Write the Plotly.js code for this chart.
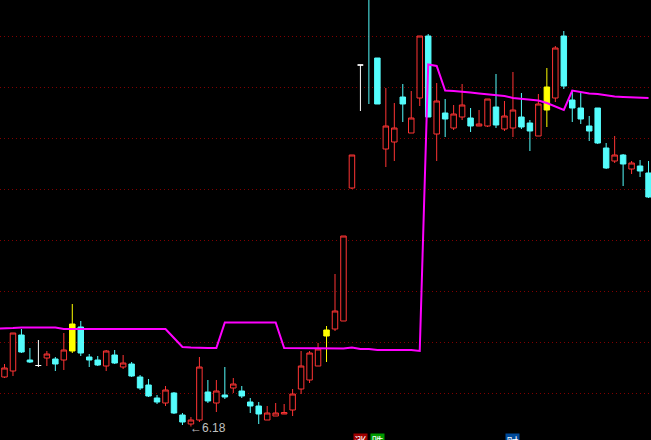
<!DOCTYPE html>
<html>
<head>
<meta charset="utf-8">
<script src="https://cdn.plot.ly/plotly-3.0.1.min.js"></script>
<style>
html,body{margin:0;padding:0;background:#000;}
#chart{width:651px;height:440px;}
</style>
</head>
<body>
<div id="chart"></div>
<script>
// Daily OHLC prices (77 trading days)
const open = [7.17,7.29,8.01,7.51,7.40,7.55,7.53,7.51,7.69,8.17,
  7.57,7.51,7.39,7.61,7.37,7.43,7.17,7.01,6.75,6.65,
  6.85,6.41,6.23,6.31,6.87,6.65,6.81,6.95,6.89,6.67,
  6.59,6.31,6.39,6.43,6.51,6.93,7.11,7.39,7.99,8.13,
  8.29,10.95,13.41,15.11,13.55,11.73,11.87,12.77,12.05,12.75,
  13.99,12.03,12.45,12.15,12.37,12.35,12.19,12.19,12.57,12.13,
  12.15,12.37,12.25,11.99,12.51,12.75,13.99,12.71,12.55,12.19,
  12.55,11.75,11.49,11.61,11.33,11.39,11.25];
const high = [7.43,8.05,8.13,7.75,7.91,7.69,7.57,8.05,8.63,8.29,
  7.63,7.59,7.71,7.71,7.61,7.47,7.21,7.13,6.81,6.99,
  6.87,6.45,6.37,7.57,7.11,7.11,7.37,7.15,6.99,6.75,
  6.67,6.59,6.65,6.63,6.93,7.69,7.69,7.85,8.19,9.23,
  9.99,11.61,13.41,15.21,13.55,12.95,12.65,13.03,12.89,13.99,
  14.03,13.05,12.73,12.61,13.03,12.55,12.51,12.73,13.23,12.69,
  13.27,12.85,12.31,12.83,13.35,13.79,14.09,12.91,12.85,12.39,
  12.55,11.85,11.99,11.63,11.49,11.51,11.49];
const low = [7.15,7.19,7.65,7.45,7.37,7.39,7.29,7.31,7.65,7.59,
  7.37,7.39,7.29,7.43,7.33,7.17,6.91,6.77,6.63,6.59,
  6.43,6.21,6.18,6.27,6.65,6.47,6.73,6.85,6.75,6.45,
  6.23,6.31,6.39,6.43,6.39,6.83,7.05,7.39,7.47,8.09,
  8.29,10.93,12.49,12.63,12.63,11.37,11.49,12.27,12.05,12.59,
  12.37,11.49,11.97,12.11,12.31,12.07,12.19,12.17,12.15,12.09,
  11.97,12.13,11.69,11.99,12.17,12.67,12.93,12.27,12.23,11.89,
  11.83,11.33,11.45,10.99,11.23,11.17,10.75];
const close = [7.35,8.05,7.67,7.47,7.40,7.63,7.43,7.71,8.23,7.65,
  7.51,7.41,7.69,7.45,7.45,7.19,6.95,6.79,6.67,6.91,
  6.45,6.27,6.31,7.37,6.69,6.89,6.77,7.03,6.79,6.59,
  6.43,6.45,6.45,6.46,6.83,7.39,7.65,7.73,8.11,8.49,
  9.99,11.61,13.41,14.81,12.63,12.19,12.15,12.63,12.35,13.99,
  12.37,12.69,12.33,12.43,12.61,12.19,12.23,12.73,12.21,12.39,
  12.51,12.17,12.09,12.63,12.97,13.75,12.99,12.55,12.33,12.09,
  11.85,11.35,11.61,11.43,11.45,11.29,10.77];
// Magenta indicator line; first value belongs to the session before the visible window
const avgLine = [8.14,
  8.14,8.15,8.16,8.16,8.16,8.16,8.16,8.13,8.13,8.13,
  8.13,8.13,8.13,8.13,8.13,8.13,8.13,8.13,8.13,8.13,
  7.95,7.77,7.76,7.75,7.75,7.75,8.26,8.26,8.26,8.26,
  8.26,8.26,8.26,7.75,7.75,7.75,7.75,7.75,7.74,7.74,
  7.74,7.76,7.73,7.73,7.71,7.71,7.71,7.71,7.71,7.69,
  13.42,13.39,12.90,12.89,12.88,12.86,12.84,12.82,12.81,12.79,
  12.75,12.73,12.72,12.70,12.65,12.58,12.51,12.90,12.87,12.84,
  12.83,12.80,12.78,12.77,12.76,12.75,12.75];
// Days flagged as signal candles (drawn yellow)
const signalDays = [9, 39, 65];
// Bottom marker labels
const markerLabels = ['涨', '跌', '财'];

const day = open.map((_, i) => i + 1);
const avgDay = avgLine.map((_, i) => i);

function pick(cond) {
  const o = {x: [], open: [], high: [], low: [], close: []};
  day.forEach((d, i) => {
    if (cond(d, i)) {
      o.x.push(d); o.open.push(open[i]); o.high.push(high[i]);
      o.low.push(low[i]); o.close.push(close[i]);
    }
  });
  return o;
}
const isSignal = d => signalDays.includes(d);
const isDoji = (d, i) => open[i] === close[i];

const RED = '#ff3434', CYAN = '#54fcfc', YEL = '#ffff00', WHITE = '#ffffff';

const mainSet = pick((d, i) => !isSignal(d) && !isDoji(d, i));
const sigSet = pick((d) => isSignal(d));
const dojiSet = pick((d, i) => !isSignal(d) && isDoji(d, i));

const base = {type: 'candlestick', whiskerwidth: 0, line: {width: 1}, hoverinfo: 'skip'};

const traces = [
  Object.assign({}, base, mainSet, {
    increasing: {line: {color: RED, width: 1}, fillcolor: '#000000'},
    decreasing: {line: {color: CYAN, width: 1}, fillcolor: CYAN}
  }),
  {type: 'scatter', mode: 'lines', x: avgDay, y: avgLine,
   line: {color: '#ff00ff', width: 2, shape: 'linear'}, hoverinfo: 'skip'},
  Object.assign({}, base, sigSet, {
    increasing: {line: {color: YEL, width: 1}, fillcolor: YEL},
    decreasing: {line: {color: YEL, width: 1}, fillcolor: YEL}
  }),
  Object.assign({}, base, dojiSet, {
    increasing: {line: {color: WHITE, width: 1}, fillcolor: WHITE},
    decreasing: {line: {color: WHITE, width: 1}, fillcolor: WHITE}
  })
];

// lowest low marker
let minIdx = 0;
low.forEach((v, i) => { if (v < low[minIdx]) minIdx = i; });

const markerColors = ['#a00000', '#009a00', '#004a9a'];
const markerX = [353, 370, 505];

const annotations = [{
  x: day[minIdx], y: low[minIdx], xref: 'x', yref: 'y',
  text: '←' + low[minIdx].toFixed(2), showarrow: false,
  xanchor: 'left', yanchor: 'middle', xshift: -3, yshift: -1,
  font: {family: 'Liberation Sans, DejaVu Sans', size: 12, color: '#c0c0c0'}
}].concat(markerLabels.map((t, k) => ({
  x: markerX[k] / 651, y: 1 - 433 / 440, xref: 'paper', yref: 'paper',
  text: t, showarrow: false, xanchor: 'left', yanchor: 'top',
  bgcolor: markerColors[k], borderpad: 0, width: 13, height: 14,
  font: {family: 'Noto Sans CJK SC', size: 12, color: '#ffffff'}
})));

const layout = {
  width: 651, height: 440,
  margin: {l: 0, r: 0, t: 0, b: 0, pad: 0},
  paper_bgcolor: '#000000', plot_bgcolor: '#000000',
  showlegend: false, hovermode: false,
  boxgap: 0.2, boxgroupgap: 0.19,
  xaxis: {range: [0.469, 77.29], showgrid: false, zeroline: false,
          showticklabels: false, ticks: '', showline: false,
          rangeslider: {visible: false}},
  yaxis: {range: [5.91, 14.71], tickmode: 'linear', tick0: 6.85, dtick: 1.02,
          showgrid: true, gridcolor: '#800000', griddash: '1px,3px', gridwidth: 1,
          zeroline: false, showticklabels: false, ticks: '', showline: false},
  annotations: annotations
};

Plotly.newPlot('chart', traces, layout, {displayModeBar: false, staticPlot: true});
</script>
</body>
</html>
